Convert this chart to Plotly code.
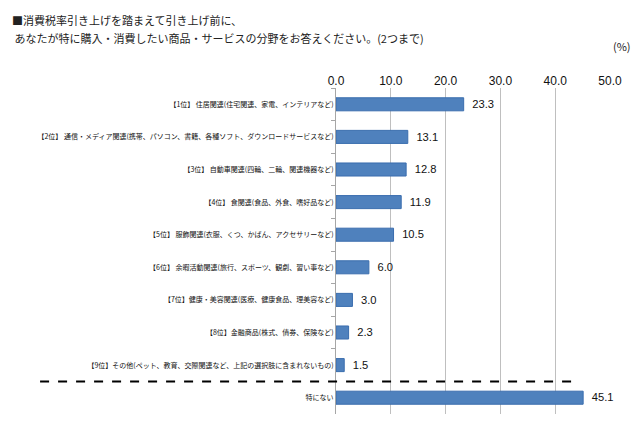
import plotly.graph_objects as go

# Data
categories = [
    '【1位】 住居関連(住宅関連、家電、インテリアなど)',
    '【2位】 通信・メディア関連(携帯、パソコン、書籍、各種ソフト、ダウンロードサービスなど)',
    '【3位】 自動車関連(四輪、二輪、関連機器など)',
    '【4位】 食関連(食品、外食、嗜好品など)',
    '【5位】 服飾関連(衣服、くつ、かばん、アクセサリーなど)',
    '【6位】 余暇活動関連(旅行、スポーツ、観劇、習い事など)',
    '【7位】健康・美容関連(医療、健康食品、理美容など)',
    '【8位】金融商品(株式、債券、保険など)',
    '【9位】その他(ペット、教育、交際関連など、上記の選択肢に含まれないもの)',
    '特にない',
]
values = [23.3, 13.1, 12.8, 11.9, 10.5, 6.0, 3.0, 2.3, 1.5, 45.1]
tick_vals = [0, 10, 20, 30, 40, 50]

FONT = 'Noto Sans CJK JP'
BAR = '#4F81BD'

fig = go.Figure()

fig.add_trace(
    go.Bar(
        x=values,
        y=categories,
        orientation='h',
        marker=dict(color=BAR, line=dict(color='#3A6DAE', width=1)),
        width=0.4,
        # en space in front gives the gap after the bar end
        text=[f'\u2002{v:.1f}' for v in values],
        textposition='outside',
        textfont=dict(family='Liberation Sans, Arial', size=12, color='#111111'),
        cliponaxis=False,
        showlegend=False,
    )
)

# dashed separator between 9位 and 特にない
fig.add_shape(
    type='line', xref='paper', yref='y',
    x0=-1.08, x1=0.883, y0=8.5, y1=8.5,
    line=dict(color='black', width=2, dash='dash'),
)

# page body has an 8px margin, so the figure is 8px smaller each way
fig.update_layout(
    width=632, height=428,
    margin=dict(l=328, r=30, t=80, b=22),
    paper_bgcolor='white',
    plot_bgcolor='white',
    font=dict(family=FONT, color='#222222'),
    bargap=0.6,
    annotations=[
        dict(text='■消費税率引き上げを踏まえて引き上げ前に、', xref='paper', yref='paper',
             x=-1.19, y=1.209, xanchor='left', yanchor='middle', showarrow=False,
             font=dict(size=11, color='#222222')),
        dict(text=' あなたが特に購入・消費したい商品・サービスの分野をお答えください。(2つまで)',
             xref='paper', yref='paper', x=-1.19, y=1.153, xanchor='left', yanchor='middle',
             showarrow=False, font=dict(size=11, color='#222222')),
        dict(text='(%)', xref='paper', yref='paper', x=1.044, y=1.129,
             xanchor='center', yanchor='middle', showarrow=False,
             font=dict(size=11, color='#222222')),
    ],
)

fig.update_xaxes(
    side='top',
    range=[0, 50],
    tickvals=tick_vals,
    tickformat='.1f',
    tickfont=dict(family='Liberation Sans, Arial', size=12, color='#111111'),
    showgrid=True, gridcolor='#BFBFBF', gridwidth=1,
    zeroline=False,
    showline=False,
    automargin=False,
)

fig.update_yaxes(
    type='category',
    categoryorder='array', categoryarray=categories,
    range=[9.5, -0.5],
    tickfont=dict(size=7, color='#111111'),
    showline=True, linecolor='#A6A6A6', linewidth=1,
    ticks='outside', tickson='boundaries', ticklen=4, tickcolor='#A6A6A6',
    showgrid=False,
    automargin=False,
)

fig.write_html("out.html")
